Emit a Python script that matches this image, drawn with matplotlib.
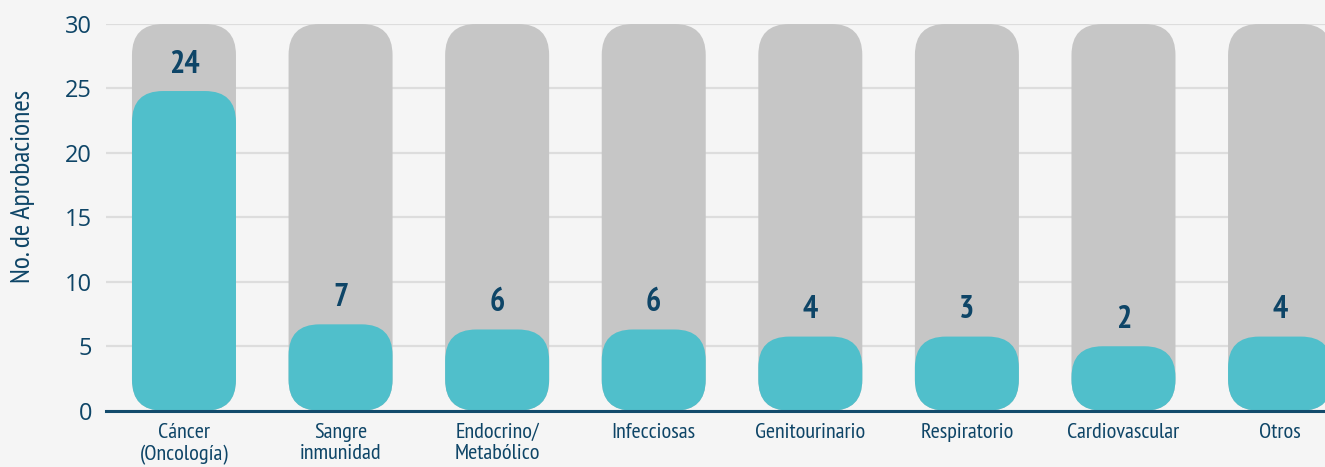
import matplotlib.pyplot as plt
from matplotlib.patches import FancyBboxPatch

# datos
categorias = ["Cáncer\n(Oncología)", "Sangre\ninmunidad", "Endocrino/\nMetabólico", "Infecciosas",
              "Genitourinario", "Respiratorio", "Cardiovascular", "Otros"]
aprobaciones = [24, 7, 6, 6, 4, 3, 2, 4]
# altura dibujada de la barra (con mínimo por el redondeo)
altura_barra = [24.8, 6.7, 6.3, 6.3, 5.75, 5.75, 5.0, 5.75]
maximo = 30

navy = "#0e4567"
teal = "#50bfcb"
gris = "#c6c6c6"
fondo = "#f5f5f5"
narrow = ["PT Sans Narrow", "DejaVu Sans"]

W, H = 1325, 467
fig = plt.figure(figsize=(W / 100, H / 100), dpi=100, facecolor=fondo)
ax = fig.add_axes([106 / W, (H - 410.7) / H, (W - 106) / W, (410.7 - 24) / H])
ax.set_facecolor(fondo)

x0, x1 = -0.498, 7.287
ax.set_xlim(x0, x1)
ax.set_ylim(0, maximo)

px_x = (W - 106) / (x1 - x0)
px_y = (410.7 - 24) / maximo
aspecto = px_x / px_y
radio = 31 / px_x
ancho = 104 / px_x

for i, (v, h) in enumerate(zip(aprobaciones, altura_barra)):
    ax.add_patch(FancyBboxPatch((i - ancho / 2, 0), ancho, maximo,
                                boxstyle=f"round,pad=0,rounding_size={radio}",
                                mutation_aspect=aspecto, fc=gris, ec="none", zorder=1))
    ax.add_patch(FancyBboxPatch((i - ancho / 2, 0), ancho, h,
                                boxstyle=f"round,pad=0,rounding_size={radio}",
                                mutation_aspect=aspecto, fc=teal, ec="none", zorder=2))
    ax.annotate(str(v), (i, h), xytext=(0, 19), textcoords="offset points",
                ha="center", va="center", fontsize=23, fontweight="bold",
                color=navy, family=narrow, zorder=3)

ax.set_yticks(range(0, 31, 5))
ax.yaxis.grid(True, color="#dddddd", linewidth=1.6)
ax.set_axisbelow(True)
ax.tick_params(axis="y", length=0, pad=10, labelsize=17, labelcolor=navy,
               labelfontfamily="Open Sans")

ax.set_xticks(range(len(categorias)))
ax.set_xticklabels(categorias, family=narrow, fontsize=16, color=navy, linespacing=1.15)
ax.tick_params(axis="x", length=0, pad=9)

for s in ["top", "right", "left"]:
    ax.spines[s].set_visible(False)
ax.spines["bottom"].set_color("#134b6c")
ax.spines["bottom"].set_linewidth(2.2)
ax.spines["bottom"].set_zorder(4)

fig.text(23 / W, 1 - 186 / H, "No. de Aprobaciones", rotation=90, ha="center", va="center",
         fontsize=20, color=navy, family=narrow)

fig.savefig("out.png", dpi=100, facecolor=fondo)
